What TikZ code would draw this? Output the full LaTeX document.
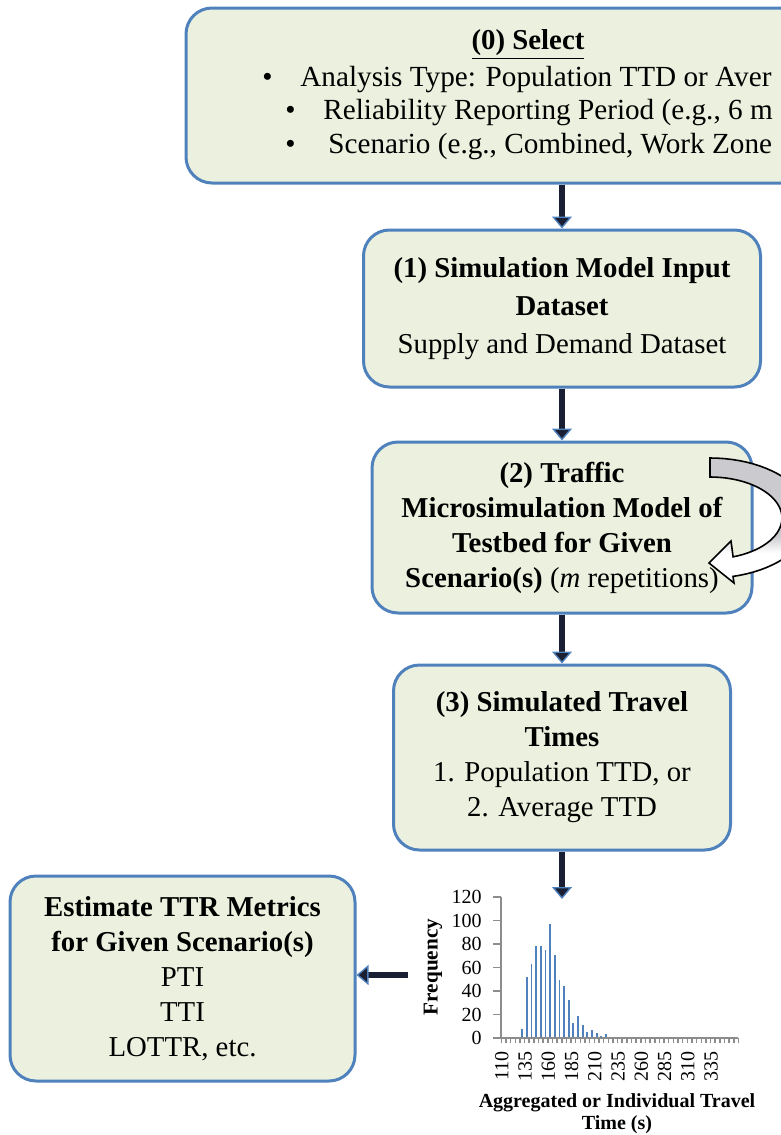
\documentclass[tikz,border=0pt]{standalone}
\usepackage{fontspec}
\setmainfont{Liberation Serif}
\usetikzlibrary{arrows.meta}
\definecolor{BoxBlue}{HTML}{4F81BD}
\definecolor{BoxGreen}{HTML}{EBF1DE}
\definecolor{ArrowDark}{HTML}{1B1F33}
\definecolor{BarBlue}{HTML}{4F81BD}
\definecolor{AxisGray}{HTML}{8C8C8C}
\definecolor{LoopGray}{HTML}{CACACF}
\pgfdeclareverticalshading{loopshade}{100bp}{color(0bp)=(white); color(37bp)=(white); color(44bp)=(LoopGray); color(100bp)=(LoopGray)}

\begin{document}
\begin{tikzpicture}[x=0.5pt, y=-0.5pt,
    stepbox/.style={draw=BoxBlue, fill=BoxGreen, line width=1.5pt, rounded corners=13pt,
        align=center, inner sep=4pt, font=\fontsize{14.4}{17.5}\selectfont},
    flowarrow/.style={draw=ArrowDark, line width=2.8pt,
        -{Triangle[length=6pt, width=10pt, fill=ArrowDark, color=BoxBlue, line width'=0.7pt]}},
    axisline/.style={draw=AxisGray, line width=0.75pt},
    barline/.style={draw=BarBlue, line width=0.9pt},
    ticklabel/.style={font=\fontsize{10}{12}\selectfont, inner sep=0pt},
    axistitle/.style={font=\fontsize{10}{11}\selectfont\bfseries, align=center, inner sep=0pt}]
    \useasboundingbox (0,0) rectangle (781,1135);
    \clip (0,0) rectangle (781,1135);

    % (0) selection box, runs past the right edge
    \node[stepbox, minimum width=342pt, minimum height=87.5pt] (sel) at (528,95.5) {};
    \node[font=\fontsize{14.4}{17.5}\selectfont, inner sep=0pt] (seltitle) at (528,45) {\underline{\textbf{(0) Select}}};
    \node[anchor=west, inner sep=0pt, font=\fontsize{14.6}{17.5}\selectfont] (seltype) at (262,80)
        {\makebox[19pt][l]{\textbullet}Analysis Type: Population TTD or Aver};
    \node[anchor=west, inner sep=0pt, font=\fontsize{14.6}{17.5}\selectfont] (selperiod) at (285,113)
        {\makebox[19pt][l]{\textbullet}Reliability Reporting Period (e.g., 6 m};
    \node[anchor=west, inner sep=0pt, font=\fontsize{14.6}{17.5}\selectfont] (selscen) at (285,147)
        {\makebox[21.5pt][l]{\textbullet}Scenario (e.g., Combined, Work Zone};

    % steps 1-3
    \node[stepbox, minimum width=198.5pt, minimum height=78.5pt, font=\fontsize{14.4}{19}\selectfont] (input) at (562,308.5)
        {\textbf{(1) Simulation Model Input}\\ \textbf{Dataset}\\ Supply and Demand Dataset};
    \node[stepbox, minimum width=190pt, minimum height=85.5pt] (micro) at (562,527.5)
        {\textbf{(2) Traffic}\\ \textbf{Microsimulation Model of}\\ \textbf{Testbed for Given}\\ \textbf{Scenario(s)} (\textit{m} repetitions)};
    \node[stepbox, minimum width=168.5pt, minimum height=92.5pt] (tt) at (562,757.5)
        {\textbf{(3) Simulated Travel}\\ \textbf{Times}\\ 1. Population TTD, or\\ 2. Average TTD};
    \node[stepbox, minimum width=172.5pt, minimum height=102.5pt] (metrics) at (182.5,978.5)
        {\textbf{Estimate TTR Metrics}\\ \textbf{for Given Scenario(s)}\\ PTI\\ TTI\\ LOTTR, etc.};

    % repetition loop on step 2
    \draw[shading=loopshade, draw=black, line width=0.8pt]
        (710,458) -- plot[domain=-90:76.7, samples=40] ({710+100*cos(\x)},{518+60*sin(\x)})
        -- (734,583) -- (709,563) -- (731,541)
        -- plot[domain=71.3:-90, samples=40] ({710+72*cos(\x)},{518+41*sin(\x)}) -- cycle;

    % connectors
    \coordinate (histtop) at (562,899);
    \coordinate (histlink) at (408,975);
    \draw[flowarrow] (sel.south -| input.north) -- (input.north);
    \draw[flowarrow] (input.south) -- (micro.north);
    \draw[flowarrow] (micro.south) -- (tt.north);
    \draw[flowarrow] (tt.south) -- (histtop);
    \draw[flowarrow] (histlink) -- (metrics.east |- histlink);

    % travel time histogram
    \foreach \k/\v in {4/8, 5/52, 6/63, 7/78, 8/78, 9/75, 10/97, 11/71, 12/49, 13/44, 14/32,
                       15/13, 16/19, 17/11, 18/5, 19/7, 20/4, 21/2, 22/3, 24/1, 28/1, 30/1}
        \draw[barline] ({501.3+4.65*(\k+0.5)},1038) -- ({501.3+4.65*(\k+0.5)},{1038-1.175*\v});
    \draw[axisline] (501,897) -- (501,1038) -- (738,1038);
    \foreach \j [evaluate=\j as \f using {int(20*\j)}] in {0,...,6} {
        \draw[axisline] (493,{1038-23.5*\j}) -- (501,{1038-23.5*\j});
        \node[ticklabel, anchor=east] (ylab\j) at (482,{1038-23.5*\j}) {\f};
    }
    \foreach \k in {0,...,51}
        \draw[axisline] ({501.3+4.65*\k},1038) -- ({501.3+4.65*\k},1043);
    \foreach \k [evaluate=\k as \t using {int(110+5*\k)}] in {0,5,...,45}
        \node[ticklabel, rotate=90, anchor=east] (xlab\k) at ({501.8+4.65*\k},1051) {\t};
    \node[axistitle, rotate=90, font=\fontsize{10.6}{12}\selectfont\bfseries] (freqlabel) at (433,967) {Frequency};
    \node[axistitle] (timelabel) at (617,1114) {Aggregated or Individual Travel\\Time (s)};
\end{tikzpicture}
\end{document}
